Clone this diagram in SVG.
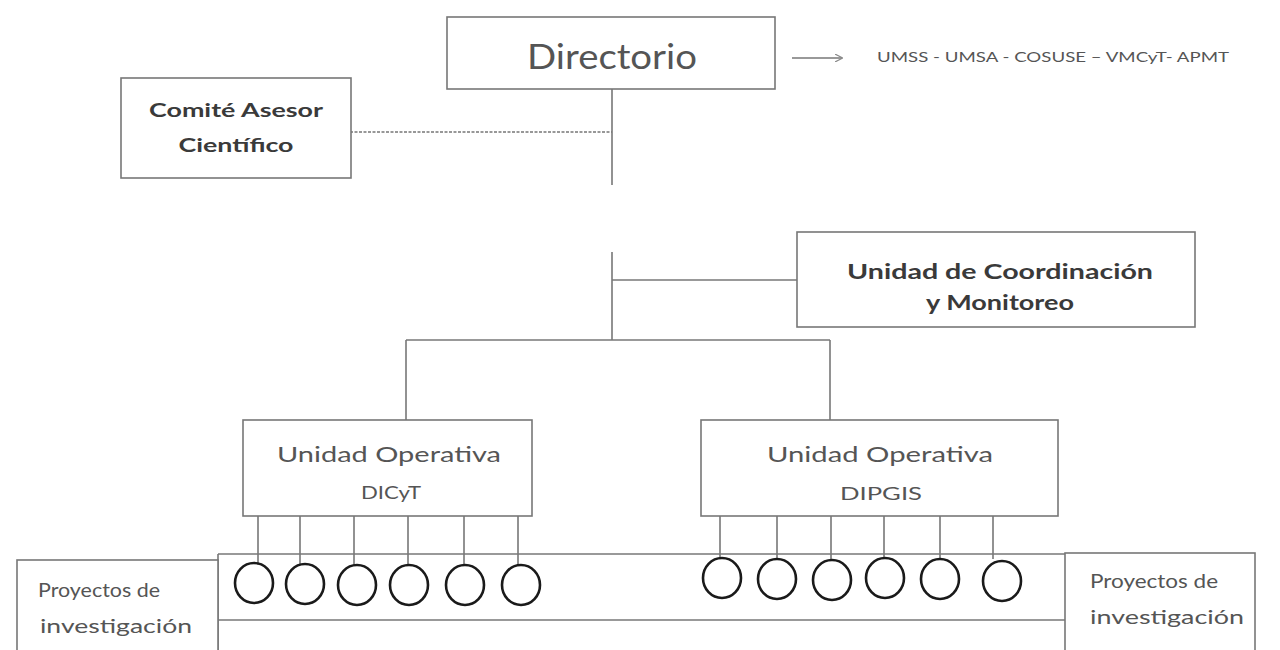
<svg xmlns="http://www.w3.org/2000/svg" width="1280" height="650" viewBox="0 0 1280 650">
<defs>
<marker id="arr" viewBox="0 0 10 10" refX="9" refY="5" markerWidth="8" markerHeight="8" orient="auto" markerUnits="userSpaceOnUse">
<path d="M0,0 L10,5 L0,10" fill="none" stroke="#888" stroke-width="1.6"/>
</marker>
</defs>
<style>
.box{fill:#fff;stroke:#777;stroke-width:1.6}
.ln{stroke:#777;stroke-width:1.6;fill:none}
.t{font-family:Lato,"Open Sans","Liberation Sans",sans-serif;fill:#555;text-anchor:middle}
.b{font-weight:bold;fill:#3a3a3a}
.c{fill:none;stroke:#1a1a1a;stroke-width:2.6}
</style>
<rect width="1280" height="650" fill="#fff"/>
<g id="connectors">
<line class="ln" x1="612" y1="89" x2="612" y2="185"/>
<line class="ln" x1="350" y1="132" x2="612" y2="132" stroke-dasharray="3,1.5"/>
<line class="ln" x1="612" y1="252" x2="612" y2="340"/>
<line class="ln" x1="612" y1="280" x2="797" y2="280"/>
<line class="ln" x1="406" y1="340" x2="830" y2="340"/>
<line class="ln" x1="406" y1="340" x2="406" y2="420"/>
<line class="ln" x1="830" y1="340" x2="830" y2="420"/>
<line class="ln" x1="792" y1="58" x2="842" y2="58" stroke-width="2" marker-end="url(#arr)"/>
<g class="ln">
<line x1="258" y1="516" x2="258" y2="565"/>
<line x1="300" y1="516" x2="300" y2="565"/>
<line x1="354" y1="516" x2="354" y2="565"/>
<line x1="408" y1="516" x2="408" y2="565"/>
<line x1="464" y1="516" x2="464" y2="565"/>
<line x1="518" y1="516" x2="518" y2="565"/>
<line x1="720" y1="516" x2="720" y2="559"/>
<line x1="777" y1="516" x2="777" y2="559"/>
<line x1="831" y1="516" x2="831" y2="559"/>
<line x1="884" y1="516" x2="884" y2="559"/>
<line x1="940" y1="516" x2="940" y2="559"/>
<line x1="993" y1="516" x2="993" y2="559"/>
</g>
</g>
<g id="directorio">
<rect class="box" x="447" y="17" width="328" height="72"/>
<text class="t" x="612" y="69" font-size="35" textLength="170" lengthAdjust="spacingAndGlyphs">Directorio</text>
</g>
<g id="instituciones">
<text class="t" x="1053" y="62" font-size="12.5" fill="#777" textLength="352" lengthAdjust="spacingAndGlyphs">UMSS - UMSA - COSUSE – VMCyT- APMT</text>
</g>
<g id="comite">
<rect class="box" x="121" y="78" width="230" height="100"/>
<text class="t b" x="236" y="117" font-size="19" textLength="174" lengthAdjust="spacingAndGlyphs">Comité Asesor</text>
<text class="t b" x="236" y="152" font-size="19" textLength="115" lengthAdjust="spacingAndGlyphs">Científico</text>
</g>
<g id="coordinacion">
<rect class="box" x="797" y="232" width="398" height="95"/>
<text class="t b" x="1000" y="279" font-size="20.5" textLength="306" lengthAdjust="spacingAndGlyphs">Unidad de Coordinación</text>
<text class="t b" x="1000" y="310" font-size="20.5" textLength="148" lengthAdjust="spacingAndGlyphs">y  Monitoreo</text>
</g>
<g id="dicyt">
<rect class="box" x="243" y="420" width="289" height="96"/>
<text class="t" x="389" y="462" font-size="22" textLength="224" lengthAdjust="spacingAndGlyphs">Unidad Operativa</text>
<text class="t" x="391" y="499" font-size="18" textLength="60" lengthAdjust="spacingAndGlyphs">DICyT</text>
</g>
<g id="dipgis">
<rect class="box" x="701" y="420" width="357" height="96"/>
<text class="t" x="880" y="462" font-size="22" textLength="226" lengthAdjust="spacingAndGlyphs">Unidad Operativa</text>
<text class="t" x="881" y="500" font-size="18" textLength="82" lengthAdjust="spacingAndGlyphs">DIPGIS</text>
</g>
<g id="banda">
<line class="ln" x1="218" y1="554" x2="1065" y2="554"/>
<line class="ln" x1="218" y1="620" x2="1065" y2="620"/>
<line class="ln" x1="218" y1="554" x2="218" y2="650"/>
</g>
<g id="proyectos-izq">
<rect class="box" x="17" y="560" width="201" height="95"/>
<text class="t" x="99" y="597" font-size="18.5" textLength="122" lengthAdjust="spacingAndGlyphs">Proyectos de</text>
<text class="t" x="116" y="633" font-size="18.5" textLength="152" lengthAdjust="spacingAndGlyphs">investigación</text>
</g>
<g id="proyectos-der">
<rect class="box" x="1065" y="553" width="190" height="102"/>
<text class="t" x="1154" y="588" font-size="18.5" textLength="128" lengthAdjust="spacingAndGlyphs">Proyectos de</text>
<text class="t" x="1167" y="624" font-size="18.5" textLength="154" lengthAdjust="spacingAndGlyphs">investigación</text>
</g>
<g id="proyectos-dicyt">
<ellipse class="c" cx="254" cy="583" rx="19" ry="20"/>
<ellipse class="c" cx="305" cy="584" rx="19" ry="20"/>
<ellipse class="c" cx="357" cy="585" rx="19" ry="20"/>
<ellipse class="c" cx="409" cy="585" rx="19" ry="20"/>
<ellipse class="c" cx="465" cy="585" rx="19" ry="20"/>
<ellipse class="c" cx="521" cy="585" rx="19" ry="20"/>
</g>
<g id="proyectos-dipgis">
<ellipse class="c" cx="722" cy="578" rx="19" ry="20"/>
<ellipse class="c" cx="777" cy="579" rx="19" ry="20"/>
<ellipse class="c" cx="832" cy="580" rx="19" ry="20"/>
<ellipse class="c" cx="885" cy="578" rx="19" ry="20"/>
<ellipse class="c" cx="940" cy="579" rx="19" ry="20"/>
<ellipse class="c" cx="1002" cy="581" rx="19" ry="20"/>
</g>
</svg>
